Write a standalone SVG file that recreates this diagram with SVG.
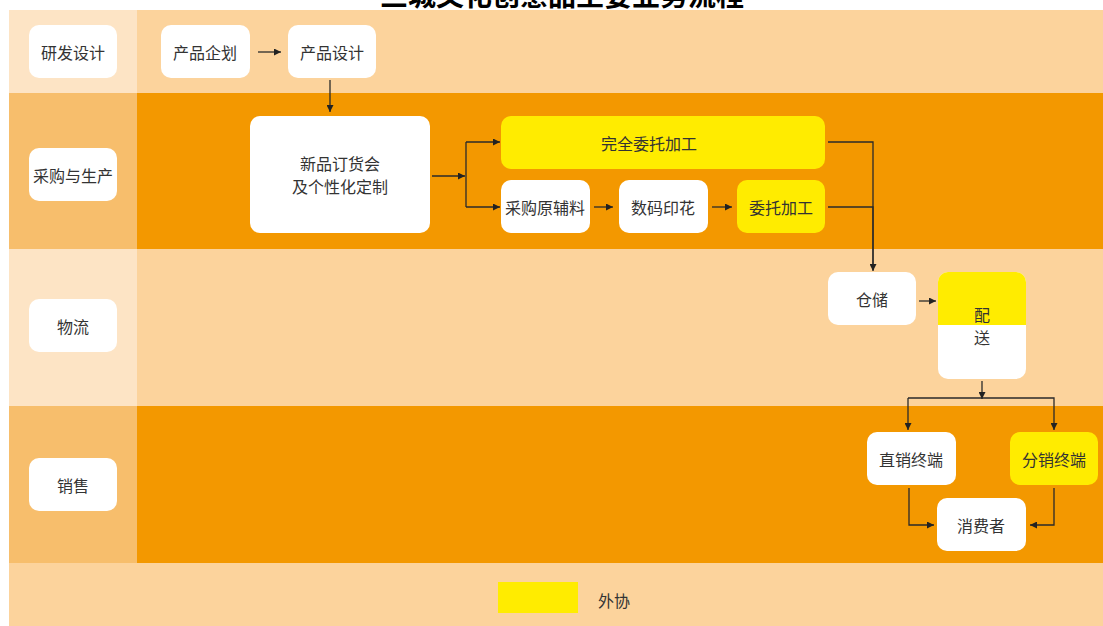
<svg xmlns="http://www.w3.org/2000/svg" width="1103" height="626" viewBox="0 0 1103 626">
<defs>
<marker id="ah" viewBox="0 0 10 10" refX="10" refY="5" markerWidth="7" markerHeight="7" markerUnits="userSpaceOnUse" orient="auto">
<path d="M0,0 L10,5 L0,10 z" fill="#222"/>
</marker>
<style>
text{font-family:"Noto Sans CJK SC","Noto Sans",sans-serif;font-size:16px;fill:#333;text-anchor:middle;dominant-baseline:central}
.w{fill:#fff}
.y{fill:#FFEC00}
.c{fill:none;stroke:#2a2a2a;stroke-width:1.3}
.a{marker-end:url(#ah)}
</style>
</defs>
<rect width="1103" height="626" fill="#fff"/>
<text x="562" y="-6" style="font-size:28px;fill:#000;font-weight:bold">三城文化创意品主要业务流程</text>
<g id="lanes">
<rect x="9" y="10" width="1094" height="616" fill="#FCD39C"/>
<rect x="9" y="10" width="128" height="83" fill="#FDE4C5"/>
<rect x="9" y="93" width="128" height="156" fill="#F7BE6C"/>
<rect x="137" y="93" width="966" height="156" fill="#F39800"/>
<rect x="9" y="249" width="128" height="157" fill="#FDE4C5"/>
<rect x="9" y="406" width="128" height="157" fill="#F7BE6C"/>
<rect x="137" y="406" width="966" height="157" fill="#F39800"/>
</g>
<g id="lane-rd"><rect class="w" x="29" y="25" width="88" height="53" rx="10"/><text x="73" y="52">研发设计</text></g>
<g id="lane-prod"><rect class="w" x="29" y="148" width="88" height="53" rx="10"/><text x="73" y="175">采购与生产</text></g>
<g id="lane-log"><rect class="w" x="29" y="299" width="88" height="53" rx="10"/><text x="73" y="326">物流</text></g>
<g id="lane-sale"><rect class="w" x="29" y="458" width="88" height="53" rx="10"/><text x="73" y="485">销售</text></g>
<g id="n-plan"><rect class="w" x="161" y="25" width="89" height="53" rx="10"/><text x="205" y="52">产品企划</text></g>
<g id="n-design"><rect class="w" x="288" y="25" width="88" height="53" rx="10"/><text x="332" y="52">产品设计</text></g>
<g id="n-order"><rect class="w" x="250" y="116" width="180" height="117" rx="10"/><text x="340" y="163">新品订货会</text><text x="340" y="186">及个性化定制</text></g>
<g id="n-full"><rect class="y" x="501" y="116" width="324" height="53" rx="10"/><text x="649" y="143">完全委托加工</text></g>
<g id="n-buy"><rect class="w" x="501" y="180" width="89" height="53" rx="10"/><text x="545" y="207">采购原辅料</text></g>
<g id="n-print"><rect class="w" x="619" y="180" width="89" height="53" rx="10"/><text x="663" y="207">数码印花</text></g>
<g id="n-oem"><rect class="y" x="737" y="180" width="88" height="53" rx="10"/><text x="781" y="207">委托加工</text></g>
<g id="n-store"><rect class="w" x="828" y="272" width="88" height="53" rx="10"/><text x="872" y="299">仓储</text></g>
<g id="n-ship"><rect class="w" x="938" y="272" width="88" height="107" rx="10"/><path class="y" d="M948,272 H1016 A10,10 0 0 1 1026,282 V325 H938 V282 A10,10 0 0 1 948,272 z"/><text x="982" y="314">配</text><text x="982" y="337">送</text></g>
<g id="n-direct"><rect class="w" x="867" y="432" width="89" height="53" rx="10"/><text x="911" y="459">直销终端</text></g>
<g id="n-dist"><rect class="y" x="1010" y="432" width="88" height="53" rx="10"/><text x="1054" y="459">分销终端</text></g>
<g id="n-consumer"><rect class="w" x="937" y="498" width="89" height="53" rx="10"/><text x="981" y="525">消费者</text></g>
<g id="connectors">
<path class="c a" d="M258,52 H281"/>
<path class="c a" d="M330,80 V112"/>
<path class="c a" d="M432,176 H465"/>
<path class="c" d="M466,142 V207"/>
<path class="c a" d="M466,142 H500"/>
<path class="c a" d="M466,207 H500"/>
<path class="c a" d="M594,207 H613"/>
<path class="c a" d="M712,207 H732"/>
<path class="c" d="M828,142 H873 V270"/>
<path class="c a" d="M828,207 H873 V271"/>
<path class="c a" d="M919,301 H936"/>
<path class="c a" d="M982,381 V399"/>
<path class="c a" d="M908,398 H1054 V430"/>
<path class="c a" d="M908,398 V430"/>
<path class="c a" d="M909,488 V525 H934"/>
<path class="c a" d="M1054,488 V525 H1030"/>
</g>
<g id="legend"><rect class="y" x="498" y="582" width="80" height="31"/><text x="614" y="600">外协</text></g>
</svg>
